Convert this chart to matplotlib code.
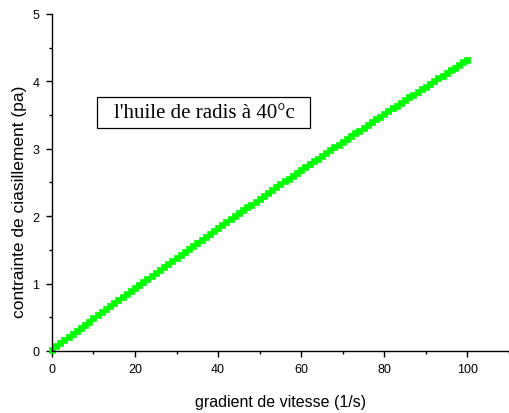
import numpy as np
import matplotlib
matplotlib.use("Agg")
import matplotlib.pyplot as plt
from matplotlib.ticker import MultipleLocator
from matplotlib.patches import Rectangle

# shear rate (1/s) and shear stress (pa)
gradient = list(range(0, 101))
contrainte = [
    0.020, 0.066, 0.113, 0.159, 0.205, 0.252, 0.298, 0.344, 0.390, 0.436,
    0.482, 0.527, 0.573, 0.619, 0.664, 0.710, 0.755, 0.800, 0.846, 0.891,
    0.936, 0.981, 1.026, 1.071, 1.116, 1.161, 1.205, 1.250, 1.295, 1.339,
    1.384, 1.428, 1.472, 1.516, 1.561, 1.605, 1.649, 1.693, 1.736, 1.780,
    1.824, 1.868, 1.911, 1.955, 1.998, 2.042, 2.085, 2.128, 2.171, 2.214,
    2.258, 2.300, 2.343, 2.386, 2.429, 2.472, 2.514, 2.557, 2.599, 2.642,
    2.684, 2.726, 2.768, 2.811, 2.853, 2.895, 2.937, 2.978, 3.020, 3.062,
    3.104, 3.145, 3.187, 3.228, 3.269, 3.311, 3.352, 3.393, 3.434, 3.475,
    3.516, 3.557, 3.598, 3.638, 3.679, 3.720, 3.760, 3.801, 3.841, 3.881,
    3.922, 3.962, 4.002, 4.042, 4.082, 4.122, 4.161, 4.201, 4.241, 4.280,
    4.320,
]
label_text = "l'huile de radis à 40°c"

plt.rcParams["font.family"] = ["Liberation Sans", "DejaVu Sans"]

fig = plt.figure(figsize=(5.09, 4.14), dpi=100)
ax = fig.add_axes([0.102, 0.150, 0.898, 0.814])

ax.plot(gradient, contrainte, linestyle="none", marker="s", markersize=5,
        color="#00ff00", markeredgecolor="#00ff00", markeredgewidth=0.5,
        clip_on=False)

ax.set_xlim(0, 110)
ax.set_ylim(0, 5)
ax.xaxis.set_major_locator(MultipleLocator(20))
ax.xaxis.set_minor_locator(MultipleLocator(10))
ax.yaxis.set_major_locator(MultipleLocator(1))
ax.yaxis.set_minor_locator(MultipleLocator(0.5))
ax.set_xticks([0, 20, 40, 60, 80, 100])

for side in ["top", "right"]:
    ax.spines[side].set_visible(False)
for side in ["left", "bottom"]:
    ax.spines[side].set_linewidth(1.0)

ax.tick_params(which="major", direction="out", length=4, width=1,
               labelsize=9, pad=5)
ax.tick_params(which="minor", direction="out", length=2.5, width=1)

ax.set_xlabel("gradient de vitesse (1/s)", fontsize=11.5, va="center")
ax.set_ylabel("contrainte de ciasillement (pa)", fontsize=12.5, va="center")
ax.xaxis.set_label_coords(0.5, -0.151)
ax.yaxis.set_label_coords(-0.072, 0.445)

# framed caption
ax.add_patch(Rectangle((10.8, 3.31), 51.4, 0.46, facecolor="white",
                       edgecolor="black", linewidth=0.9, zorder=3))
ax.text(36.6, 3.53, label_text, family=["Liberation Serif", "DejaVu Serif"],
        fontsize=15, ha="center", va="center", zorder=4)

fig.savefig("out.png", dpi=100)
